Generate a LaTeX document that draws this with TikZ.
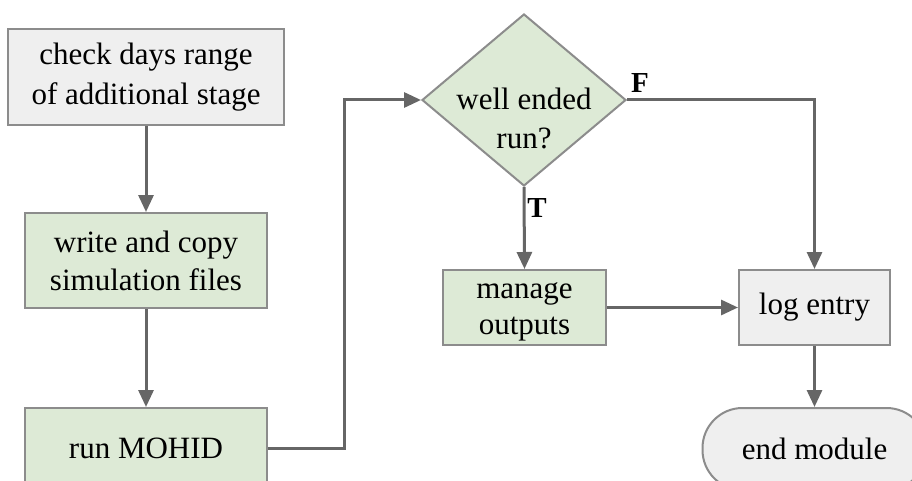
\documentclass[tikz,border=0pt]{standalone}
\usepackage{fontspec}
\setmainfont{Liberation Serif}
\usetikzlibrary{shapes.geometric,arrows.meta}
\definecolor{linegray}{HTML}{666666}
\definecolor{edgegray}{HTML}{8C8C8C}
\definecolor{boxgray}{HTML}{EFEFEF}
\definecolor{boxgreen}{HTML}{DDEAD6}
\tikzset{
  base/.style={draw=edgegray, line width=2pt, align=center, inner sep=0pt,
    font=\fontsize{31}{38}\selectfont},
  graybox/.style={base, rectangle, fill=boxgray},
  greenbox/.style={base, rectangle, fill=boxgreen},
  decision/.style={base, diamond, fill=boxgreen},
  terminal/.style={base, rectangle, rounded corners=40pt, fill=boxgray},
  flow/.style={draw=linegray, line width=3pt,
    -{Triangle[length=17pt,width=15pt]}},
  branch/.style={font=\fontsize{29}{30}\selectfont\bfseries, inner sep=0pt}
}
\begin{document}
\begin{tikzpicture}[x=1pt,y=-1pt]
\useasboundingbox (0,0) rectangle (912,481);
\clip (0,0) rectangle (912,481);
\fill[white] (0,0) rectangle (912,481);

\node[graybox, minimum width=276pt, minimum height=96pt,
  font=\fontsize{31}{40}\selectfont] (check) at (146,77)
  {check days range\\of additional stage};
\node[greenbox, minimum width=242pt, minimum height=95pt] (write) at (146,260.5)
  {write and copy\\simulation files};
\node[greenbox, minimum width=242pt, minimum height=80pt] (run) at (146,448)
  {run MOHID};
\node[decision, minimum width=204pt, minimum height=172pt,
  label={[font=\fontsize{31}{39}\selectfont, align=center, yshift=-18pt]center:well ended\\run?}]
  (ended) at (524,100) {};
\node[greenbox, minimum width=163pt, minimum height=75pt,
  font=\fontsize{31}{36}\selectfont] (manage) at (524.5,307.5)
  {\strut manage\\outputs};
\node[graybox, minimum width=151pt, minimum height=75pt] (log) at (814.5,307.5)
  {log entry};
\node[terminal, minimum width=224pt, minimum height=82pt] (finish) at (814.5,449)
  {end module};

\coordinate (bend) at (344,448);

\draw[flow] (check.south) -- (write.north);
\draw[flow] (write.south) -- (run.north);
\draw[flow] (run.east) -- (bend) |- (ended.west);
\draw[flow] (ended.south) -- (manage.north);
\draw[flow] (ended.east) -| (log.north);
\draw[flow] (manage.east) -- (log.west);
\draw[flow] (log.south) -- (finish.north);

\node[branch] (tlabel) at ([xshift=13pt,yshift=-21pt]ended.south) {T};
\node[branch] (flabel) at ([xshift=13pt,yshift=17pt]ended.east) {F};
\end{tikzpicture}
\end{document}
